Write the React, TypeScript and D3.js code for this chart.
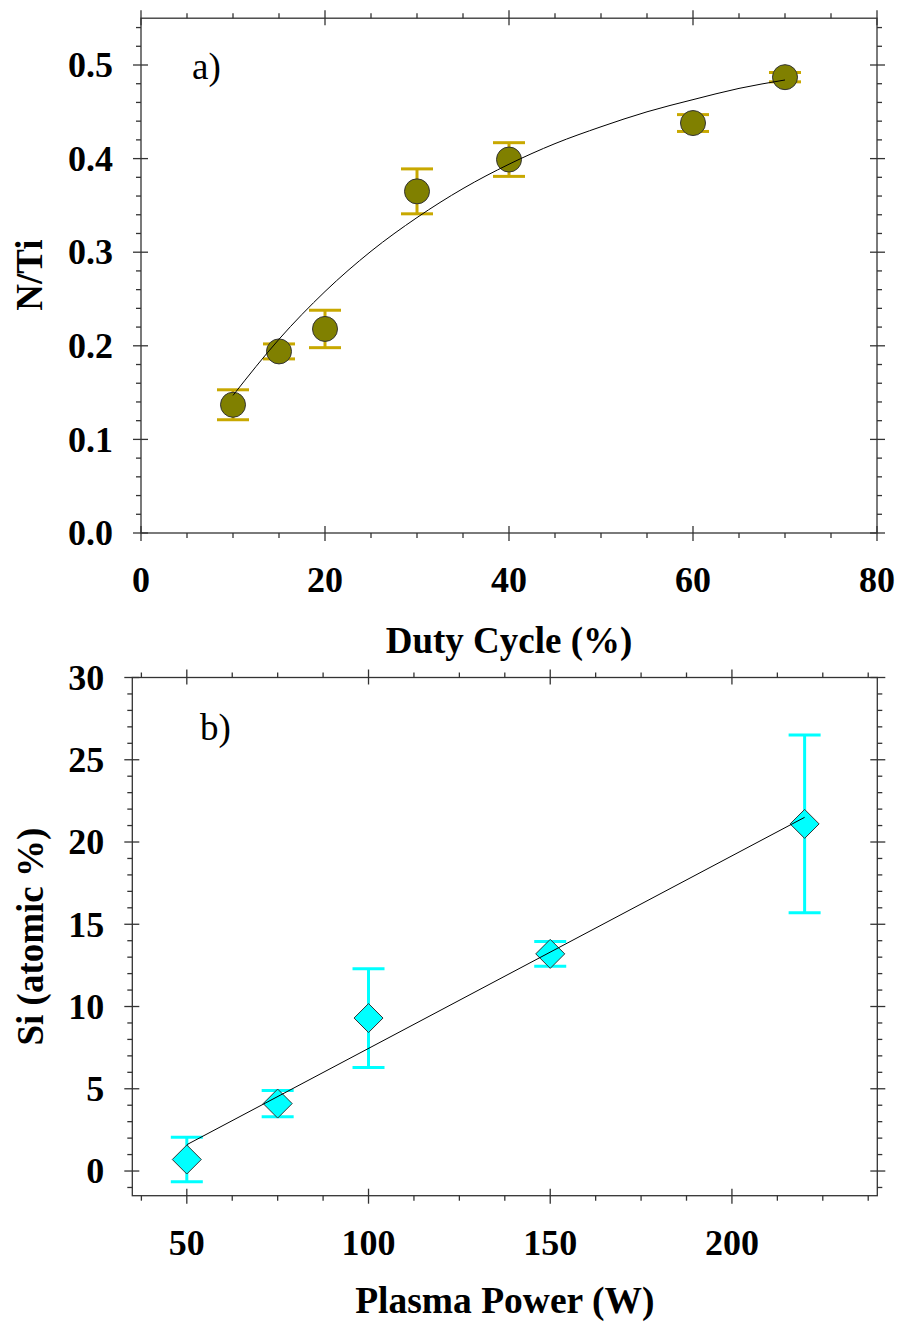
import React from "react";
import * as d3 from "d3";

// ---------- Panel a) data ----------
const dutyCycle = [10, 15, 20, 30, 40, 60, 70];
const nTiRatio = [0.137, 0.194, 0.218, 0.365, 0.399, 0.438, 0.487];
const nTiError = [0.016, 0.008, 0.02, 0.024, 0.018, 0.009, 0.005];
const fitDutyX = [10, 15, 20, 25, 30, 35, 40, 45, 50, 55, 60, 65, 70];
const fitDutyY = [0.147, 0.207, 0.258, 0.301, 0.337, 0.368, 0.394, 0.416, 0.434, 0.45, 0.463, 0.475, 0.484];
const dutyMajorTicks = [0, 20, 40, 60, 80];
const dutyMinorTicks = [5, 10, 15, 25, 30, 35, 45, 50, 55, 65, 70, 75];
const nTiMajorTicks = [0, 0.1, 0.2, 0.3, 0.4, 0.5];
const nTiTickLabels = ["0.0", "0.1", "0.2", "0.3", "0.4", "0.5"];
const nTiMinorTicks = [0.02, 0.04, 0.06, 0.08, 0.12, 0.14, 0.16, 0.18, 0.22, 0.24, 0.26, 0.28, 0.32, 0.34, 0.36, 0.38, 0.42, 0.44, 0.46, 0.48, 0.52, 0.54];

// ---------- Panel b) data ----------
const plasmaPower = [50, 75, 100, 150, 220];
const siContent = [0.7, 4.1, 9.3, 13.2, 21.1];
const siError = [1.35, 0.8, 3.0, 0.75, 5.4];
const fitPowerX = [50, 220];
const fitPowerY = [1.6, 21.5];
const powerMajorTicks = [50, 100, 150, 200];
const powerMinorTicks = [37.5, 62.5, 75, 87.5, 112.5, 125, 137.5, 162.5, 175, 187.5, 212.5, 225, 237.5];
const siMajorTicks = [0, 5, 10, 15, 20, 25, 30];
const siMinorTicks = [-1, 1, 2, 3, 4, 6, 7, 8, 9, 11, 12, 13, 14, 16, 17, 18, 19, 21, 22, 23, 24, 26, 27, 28, 29];

const FONT = "'Liberation Serif', 'Times New Roman', serif";
const AXIS = "#333";

type AxisProps = {
  x: d3.ScaleLinear<number, number>;
  y: d3.ScaleLinear<number, number>;
  xMajor: number[];
  xMinor: number[];
  yMajor: number[];
  yMinor: number[];
  xLabels: string[];
  yLabels: string[];
};

function Frame({ x, y, xMajor, xMinor, yMajor, yMinor, xLabels, yLabels }: AxisProps) {
  const [x0, x1] = x.range();
  const [y0, y1] = y.range(); // y0 bottom, y1 top
  const majOut = 8;
  const majIn = 7;
  const minLen = 5;
  const els: React.ReactNode[] = [];
  xMajor.forEach((v, i) => {
    const px = x(v);
    els.push(<line key={"xb" + i} x1={px} x2={px} y1={y0 - majIn} y2={y0 + majOut} />);
    els.push(<line key={"xt" + i} x1={px} x2={px} y1={y1 - majOut} y2={y1 + majIn} />);
  });
  xMinor.forEach((v, i) => {
    const px = x(v);
    els.push(<line key={"xbm" + i} x1={px} x2={px} y1={y0} y2={y0 + minLen} />);
    els.push(<line key={"xtm" + i} x1={px} x2={px} y1={y1} y2={y1 - minLen} />);
  });
  yMajor.forEach((v, i) => {
    const py = y(v);
    els.push(<line key={"yl" + i} x1={x0 - majOut} x2={x0 + majIn} y1={py} y2={py} />);
    els.push(<line key={"yr" + i} x1={x1 - majIn} x2={x1 + majOut} y1={py} y2={py} />);
  });
  yMinor.forEach((v, i) => {
    const py = y(v);
    els.push(<line key={"ylm" + i} x1={x0 - minLen} x2={x0} y1={py} y2={py} />);
    els.push(<line key={"yrm" + i} x1={x1} x2={x1 + minLen} y1={py} y2={py} />);
  });
  return (
    <g>
      <g stroke={AXIS} strokeWidth={1.3}>
        <rect x={x0} y={y1} width={x1 - x0} height={y0 - y1} fill="none" />
        {els}
      </g>
      <g fontFamily={FONT} fontWeight="bold" fontSize={36} fill="#000">
        {xMajor.map((v, i) => (
          <text key={"xl" + i} x={x(v)} y={y0 + 59} textAnchor="middle">
            {xLabels[i]}
          </text>
        ))}
        {yMajor.map((v, i) => (
          <text key={"ylb" + i} x={x0 - 28} y={y(v)} dy="0.34em" textAnchor="end">
            {yLabels[i]}
          </text>
        ))}
      </g>
    </g>
  );
}

export default function App() {
  // Panel a scales
  const xA = d3.scaleLinear().domain([0, 80]).range([141, 877]);
  const yA = d3.scaleLinear().domain([0, 0.55]).range([533, 533 - 0.55 * 936]);
  // Panel b scales
  const xB = d3.scaleLinear().domain([35, 240]).range([132.3, 877.3]);
  const yB = d3.scaleLinear().domain([-1.5, 30]).range([1195.7, 677.5]);

  const lineA = d3
    .line<number>()
    .x((_, i) => xA(fitDutyX[i]))
    .y((d) => yA(d))
    .curve(d3.curveMonotoneX);
  const lineB = d3
    .line<number>()
    .x((_, i) => xB(fitPowerX[i]))
    .y((d) => yB(d));

  const diamond = (cx: number, cy: number, h: number) =>
    `M${cx},${cy - h}L${cx + h},${cy}L${cx},${cy + h}L${cx - h},${cy}Z`;

  return (
    <svg
      width={901}
      height={1325}
      style={{ position: "absolute", left: 0, top: 0, background: "#fff" }}
    >
      <rect x={0} y={0} width={901} height={1325} fill="#fff" />

      {/* ---------- Panel a ---------- */}
      <Frame
        x={xA}
        y={yA}
        xMajor={dutyMajorTicks}
        xMinor={dutyMinorTicks}
        yMajor={nTiMajorTicks}
        yMinor={nTiMinorTicks}
        xLabels={dutyMajorTicks.map(String)}
        yLabels={nTiTickLabels}
      />
      <g stroke="#C8A800" strokeWidth={3}>
        {dutyCycle.map((d, i) => {
          const cx = xA(d);
          const top = yA(nTiRatio[i] + nTiError[i]);
          const bot = yA(nTiRatio[i] - nTiError[i]);
          return (
            <g key={"ea" + i}>
              <line x1={cx} x2={cx} y1={top} y2={bot} />
              <line x1={cx - 16} x2={cx + 16} y1={top} y2={top} />
              <line x1={cx - 16} x2={cx + 16} y1={bot} y2={bot} />
            </g>
          );
        })}
      </g>
      {dutyCycle.map((d, i) => (
        <circle
          key={"ma" + i}
          cx={xA(d)}
          cy={yA(nTiRatio[i])}
          r={12.5}
          fill="#808000"
          stroke="#333"
          strokeWidth={1}
        />
      ))}
      <path d={lineA(fitDutyY) || ""} fill="none" stroke="#000" strokeWidth={1} />
      <text x={192} y={79} fontFamily={FONT} fontSize={37} fill="#000">
        a)
      </text>
      <text
        transform={`translate(42,${(533 + 17) / 2}) rotate(-90)`}
        textAnchor="middle"
        fontFamily={FONT}
        fontWeight="bold"
        fontSize={37}
        fill="#000"
      >
        N/Ti
      </text>
      <text
        x={(141 + 877) / 2}
        y={653}
        textAnchor="middle"
        fontFamily={FONT}
        fontWeight="bold"
        fontSize={37}
        fill="#000"
      >
        Duty Cycle (%)
      </text>

      {/* ---------- Panel b ---------- */}
      <Frame
        x={xB}
        y={yB}
        xMajor={powerMajorTicks}
        xMinor={powerMinorTicks}
        yMajor={siMajorTicks}
        yMinor={siMinorTicks}
        xLabels={powerMajorTicks.map(String)}
        yLabels={siMajorTicks.map(String)}
      />
      <g stroke="#00FFFF" strokeWidth={3}>
        {plasmaPower.map((d, i) => {
          const cx = xB(d);
          const top = yB(siContent[i] + siError[i]);
          const bot = yB(siContent[i] - siError[i]);
          return (
            <g key={"eb" + i}>
              <line x1={cx} x2={cx} y1={top} y2={bot} />
              <line x1={cx - 16} x2={cx + 16} y1={top} y2={top} />
              <line x1={cx - 16} x2={cx + 16} y1={bot} y2={bot} />
            </g>
          );
        })}
      </g>
      {plasmaPower.map((d, i) => (
        <path
          key={"mb" + i}
          d={diamond(xB(d), yB(siContent[i]), 14.5)}
          fill="#00FFFF"
          stroke="#333"
          strokeWidth={1}
        />
      ))}
      <path d={lineB(fitPowerY) || ""} fill="none" stroke="#000" strokeWidth={1} />
      <text x={200} y={740} fontFamily={FONT} fontSize={37} fill="#000">
        b)
      </text>
      <text
        transform={`translate(43,${(1195.7 + 677.5) / 2}) rotate(-90)`}
        textAnchor="middle"
        fontFamily={FONT}
        fontWeight="bold"
        fontSize={37}
        fill="#000"
      >
        Si (atomic %)
      </text>
      <text
        x={(132.3 + 877.3) / 2}
        y={1313}
        textAnchor="middle"
        fontFamily={FONT}
        fontWeight="bold"
        fontSize={37.5}
        fill="#000"
      >
        Plasma Power (W)
      </text>
    </svg>
  );
}
